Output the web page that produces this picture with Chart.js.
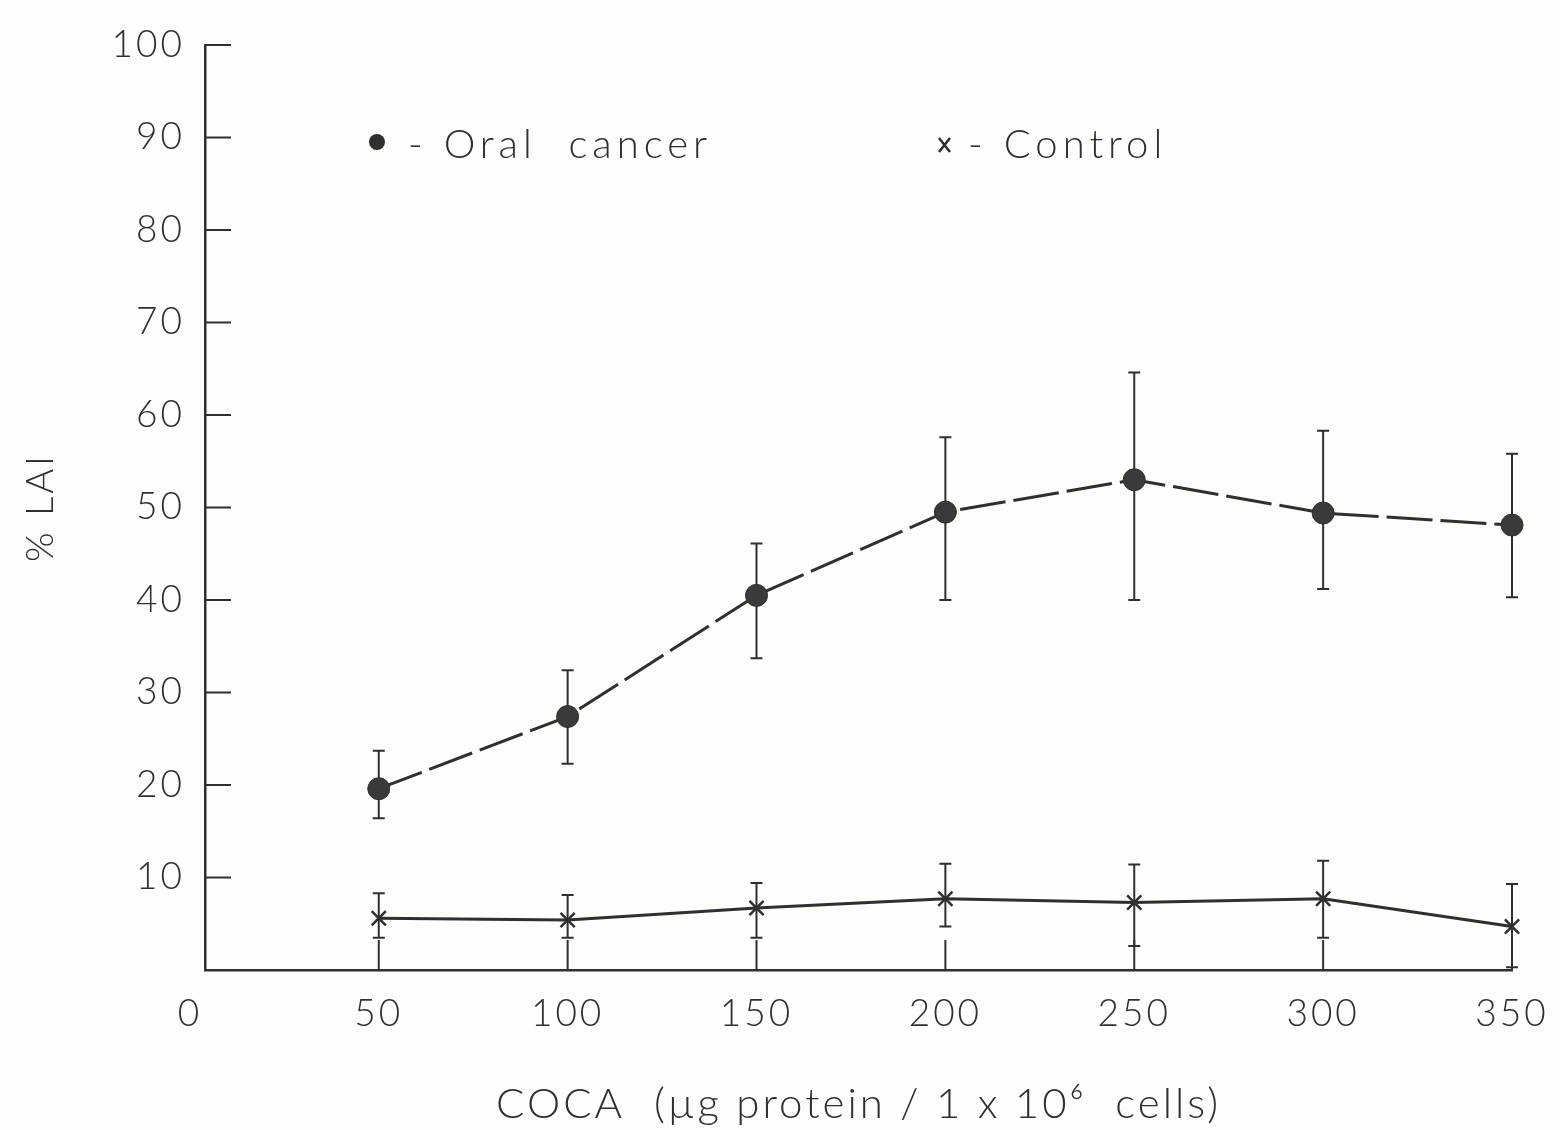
<!DOCTYPE html>
<html>
<head>
<meta charset="utf-8">
<script src="https://cdn.jsdelivr.net/npm/chart.js@4.4.1/dist/chart.umd.min.js"></script>
<style>
  html, body { margin: 0; padding: 0; background: #fdfdf9; }
  #wrap { width: 1560px; height: 1130px; }
</style>
</head>
<body>
<div id="wrap"><canvas id="laiChart" width="1560" height="1130"></canvas></div>
<script>
// COCA dose (x) and % LAI values
const doses = [50, 100, 150, 200, 250, 300, 350];

const cancerMean = [19.6, 27.4, 40.5, 49.5, 53.0, 49.4, 48.1];
const cancerHigh = [23.7, 32.4, 46.1, 57.6, 64.6, 58.3, 55.8];
const cancerLow = [16.4, 22.3, 33.7, 40.0, 40.0, 41.2, 40.3];

const controlMean = [5.6, 5.4, 6.7, 7.7, 7.3, 7.7, 4.7];
const controlHigh = [8.3, 8.1, 9.4, 11.5, 11.4, 11.8, 9.3];
const controlLow = [3.5, 3.5, 3.5, 4.7, 2.6, 3.5, 0.3];

const yTicks = [0, 10, 20, 30, 40, 50, 60, 70, 80, 90, 100];
const xTicks = [0, 50, 100, 150, 200, 250, 300, 350];

const ink = "#2f2f2f";
const fontFamily = "Lato, 'Open Sans', 'DejaVu Sans', sans-serif";

const toPoints = (ys) => doses.map((d, i) => ({ x: d, y: ys[i] }));

// error bars, inward axis ticks and the in-plot legend
const paperPlugin = {
  id: "paperPlugin",
  beforeDraw(chart) {
    chart.ctx.letterSpacing = "3px";
  },
  beforeDatasetsDraw(chart) {
    const { ctx, scales } = chart;
    const xs = scales.x;
    const ys = scales.y;
    ctx.save();
    ctx.strokeStyle = ink;
    ctx.lineWidth = 2;
    const bars = [
      [cancerHigh, cancerLow],
      [controlHigh, controlLow],
    ];
    bars.forEach(([hi, lo]) => {
      doses.forEach((d, i) => {
        const px = xs.getPixelForValue(d);
        const top = ys.getPixelForValue(hi[i]);
        const bot = ys.getPixelForValue(lo[i]);
        ctx.beginPath();
        ctx.moveTo(px, top);
        ctx.lineTo(px, bot);
        ctx.moveTo(px - 6, top);
        ctx.lineTo(px + 6, top);
        ctx.moveTo(px - 6, bot);
        ctx.lineTo(px + 6, bot);
        ctx.stroke();
      });
    });

    // ticks pointing into the plot
    yTicks.forEach((t) => {
      if (t === 0) return;
      const py = ys.getPixelForValue(t);
      ctx.beginPath();
      ctx.moveTo(xs.left, py);
      ctx.lineTo(xs.left + 26, py);
      ctx.stroke();
    });
    xTicks.forEach((t) => {
      if (t < xs.min) return;
      const px = xs.getPixelForValue(t);
      ctx.beginPath();
      ctx.moveTo(px, ys.bottom);
      ctx.lineTo(px, ys.bottom - 30);
      ctx.stroke();
    });
    ctx.restore();
  },
  afterDraw(chart) {
    const { ctx } = chart;
    ctx.save();
    ctx.fillStyle = ink;
    ctx.strokeStyle = ink;
    ctx.letterSpacing = "5px";
    ctx.font = "300 40px " + fontFamily;
    ctx.textBaseline = "middle";
    // Oral cancer key
    ctx.beginPath();
    ctx.arc(377, 142, 8, 0, Math.PI * 2);
    ctx.fill();
    ctx.fillText("- Oral  cancer", 408, 145);
    // Control key
    ctx.lineWidth = 2.5;
    ctx.beginPath();
    ctx.moveTo(939, 138);
    ctx.lineTo(950, 152);
    ctx.moveTo(950, 138);
    ctx.lineTo(939, 152);
    ctx.stroke();
    ctx.fillText("- Control", 968, 145);
    ctx.restore();
  },
};

const ctx = document.getElementById("laiChart");

new Chart(ctx, {
  type: "scatter",
  data: {
    datasets: [
      {
        label: "Oral cancer",
        data: toPoints(cancerMean),
        showLine: true,
        clip: false,
        borderColor: ink,
        borderWidth: 3,
        borderDash: [46, 8],
        pointStyle: "circle",
        pointRadius: 11,
        pointBackgroundColor: "#3a3a3a",
        pointBorderColor: ink,
        pointBorderWidth: 1,
      },
      {
        label: "Control",
        data: toPoints(controlMean),
        showLine: true,
        clip: false,
        borderColor: ink,
        borderWidth: 3,
        pointStyle: "crossRot",
        pointRadius: 10,
        pointBorderColor: ink,
        pointBorderWidth: 2.5,
      },
    ],
  },
  options: {
    responsive: false,
    animation: false,
    layout: { padding: { top: 45, right: 48, left: 0, bottom: 0 } },
    plugins: {
      legend: { display: false },
      tooltip: { enabled: false },
    },
    scales: {
      x: {
        type: "linear",
        min: 4,
        max: 350,
        afterBuildTicks: (scale) => {
          scale.ticks = xTicks.map((v) => ({ value: v }));
        },
        afterFit: (scale) => {
          scale.height = 160;
          scale.paddingRight = 0;
        },
        grid: { display: false, drawTicks: false },
        border: { display: true, color: ink, width: 2.5 },
        ticks: {
          color: ink,
          padding: 22,
          font: { family: fontFamily, size: 37, weight: "300" },
          maxRotation: 0,
        },
        title: {
          display: true,
          text: "COCA  (\u00b5g protein / 1 x 10\u2076  cells)",
          color: ink,
          font: { family: fontFamily, size: 42, weight: "300" },
          padding: { top: 44, bottom: 0 },
        },
      },
      y: {
        type: "linear",
        min: 0,
        max: 100,
        afterBuildTicks: (scale) => {
          scale.ticks = yTicks.map((v) => ({ value: v }));
        },
        afterFit: (scale) => {
          scale.width = 205;
        },
        grid: { display: false, drawTicks: false },
        border: { display: true, color: ink, width: 2.5 },
        ticks: {
          color: ink,
          padding: 20,
          font: { family: fontFamily, size: 37, weight: "300" },
          callback: (v) => (v === 0 ? "" : v),
        },
        title: {
          display: true,
          text: "% LAI",
          color: ink,
          font: { family: fontFamily, size: 38, weight: "300" },
          padding: { top: 18, bottom: 0 },
        },
      },
    },
  },
  plugins: [paperPlugin],
});
</script>
</body>
</html>
